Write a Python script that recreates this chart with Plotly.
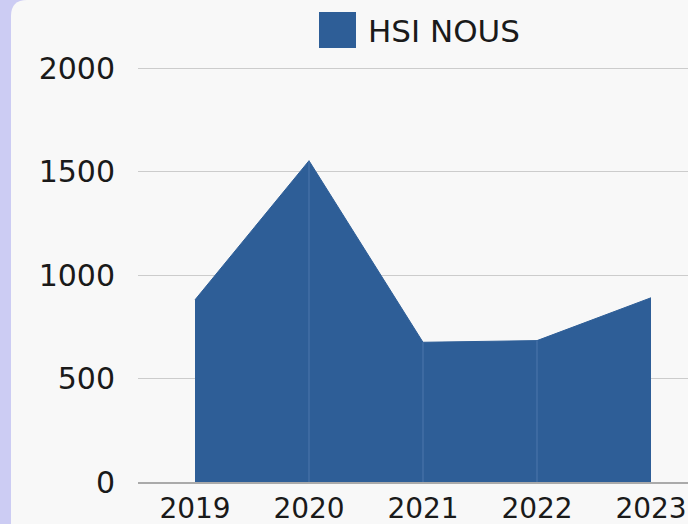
import plotly.graph_objects as go

years = ["2019", "2020", "2021", "2022", "2023"]
hsi_nous = [880, 1552, 675, 683, 890]
series_name = "HSI NOUS"
y_ticks = [0, 500, 1000, 1500, 2000]

FILL = "#2E5E97"
FONT = "DejaVu Sans"

W, H = 688, 524
L, R, T, B = 138, 0, 66, 42
pw, ph = W - L - R, H - T - B
ymax = 2000 * (H - B - T) / (H - B - 68)

def px_x(p):
    return (p - L) / pw

def px_y(p):
    return (H - B - p) / ph

fig = go.Figure()
fig.add_trace(go.Scatter(
    x=years, y=hsi_nous, mode="lines", fill="tozeroy",
    fillcolor=FILL, line=dict(color=FILL, width=1),
    name=series_name, showlegend=False, hoverinfo="x+y",
))

# subtle seams between area segments
sx, sy = [], []
for xv, yv in zip(years[1:-1], hsi_nous[1:-1]):
    sx += [xv, xv, None]
    sy += [0, yv, None]
fig.add_trace(go.Scatter(x=sx, y=sy, mode="lines",
                         line=dict(color="#4C77AC", width=1),
                         showlegend=False, hoverinfo="skip"))

# panel background with rounded top-left corner
x0 = px_x(11); xr = px_x(W + 20)
yt = px_y(0); yb = px_y(H + 20)
rx = 16 / pw; ry = 16 / ph
path = (f"M {x0},{yb} L {x0},{yt - ry} Q {x0},{yt} {x0 + rx},{yt} "
        f"L {xr},{yt} L {xr},{yb} Z")
shapes = [
    dict(type="path", path=path, xref="paper", yref="paper",
         fillcolor="#F8F8F8", line=dict(width=0), layer="below"),
    dict(type="rect", xref="paper", yref="paper",
         x0=px_x(319), x1=px_x(356), y0=px_y(48), y1=px_y(12),
         fillcolor=FILL, line=dict(width=0)),
]

fig.update_layout(
    width=W, height=H,
    margin=dict(l=L, r=R, t=T, b=B, pad=0, autoexpand=False),
    paper_bgcolor="#CCCCF3", plot_bgcolor="rgba(0,0,0,0)",
    font=dict(family=FONT, size=30, color="#1a1a1a"),
    showlegend=False,
    shapes=shapes,
    annotations=[dict(text=series_name, xref="paper", yref="paper",
                      x=px_x(366), y=px_y(31), xanchor="left", yanchor="middle",
                      showarrow=False, font=dict(family=FONT, size=31, color="#1a1a1a"))],
)
fig.update_xaxes(type="category", range=[-0.5, -0.5 + pw / 114.0], automargin=False,
                 showgrid=False, showline=True, linecolor="#AAAAAA", linewidth=2,
                 ticks="", tickfont=dict(size=28), ticklabelstandoff=0, zeroline=False)
fig.update_yaxes(range=[0, ymax], tickvals=y_ticks, showgrid=True, automargin=False,
                 gridcolor="#CCCCCC", gridwidth=1, zeroline=False, showline=False,
                 ticks="", tickfont=dict(size=30), ticklabelstandoff=22)

fig.write_html("out.html", config={"displayModeBar": False},
               post_script="document.body.style.margin='0';")
